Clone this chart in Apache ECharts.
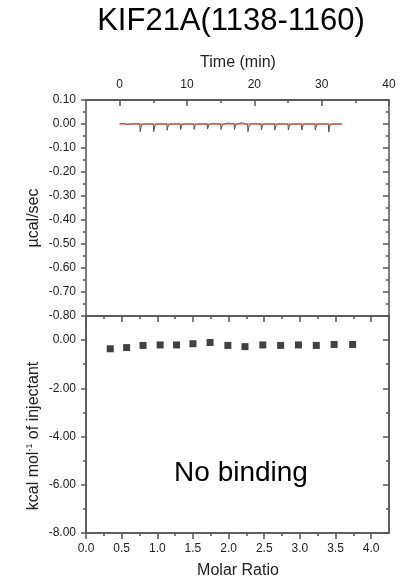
<!DOCTYPE html>
<html>
<head>
<meta charset="utf-8">
<style>
  html, body { margin: 0; padding: 0; background: #fff; }
  #chart { width: 416px; height: 580px; }
</style>
<script src="https://cdn.jsdelivr.net/npm/echarts@6/dist/echarts.min.js"></script>
</head>
<body>
<div id="chart"></div>
<script>
// Raw ITC thermogram: time (min) and differential power (µcal/sec)
const thermoTime = [
  0.0, 0.4, 0.6, 0.9, 1.0, 1.2, 1.8, 2.5,
  3.0, 3.05, 3.25, 3.6,
  5.0, 5.05, 5.25, 5.6,
  7.0, 7.05, 7.25, 7.6,
  9.0, 9.05, 9.25, 9.6,
  11.0, 11.05, 11.25, 11.6,
  13.0, 13.05, 13.25, 13.6,
  15.0, 15.05, 15.25, 15.8, 16.3, 16.6,
  17.0, 17.05, 17.25, 17.8, 18.2, 18.5,
  19.0, 19.05, 19.25, 19.6,
  21.0, 21.05, 21.25, 21.6,
  23.0, 23.05, 23.25, 23.6,
  25.0, 25.05, 25.25, 25.6,
  27.0, 27.05, 27.25, 27.6,
  29.0, 29.05, 29.25, 29.6,
  31.0, 31.05, 31.25, 31.6,
  33.0
];
const thermoPower = [
  0.000, 0.003, -0.001, 0.000, -0.008, -0.002, 0.000, 0.001,
  0.000, -0.032, -0.004, 0.000,
  0.000, -0.032, -0.004, 0.000,
  0.000, -0.026, -0.003, 0.000,
  0.000, -0.023, -0.003, 0.000,
  0.000, -0.023, -0.003, 0.000,
  0.000, -0.021, -0.003, 0.001,
  0.000, -0.023, -0.003, 0.002, 0.004, 0.001,
  0.001, -0.023, -0.002, 0.003, 0.005, 0.001,
  0.000, -0.032, -0.004, 0.001,
  0.000, -0.025, -0.003, 0.000,
  0.000, -0.025, -0.003, 0.000,
  0.000, -0.025, -0.003, 0.000,
  0.000, -0.025, -0.003, 0.000,
  0.000, -0.025, -0.003, 0.000,
  0.000, -0.034, -0.004, 0.000,
  0.000
];
// Fitted baseline under the thermogram
const baselineTime = [0, 33];
const baselinePower = [0, 0];

// Integrated heats per injection
const molarRatio = [0.34, 0.57, 0.80, 1.04, 1.27, 1.50, 1.74, 1.99, 2.23, 2.48, 2.73, 2.98, 3.23, 3.48, 3.74];
const heatPerInj = [-0.36, -0.31, -0.22, -0.20, -0.20, -0.15, -0.10, -0.22, -0.27, -0.20, -0.22, -0.20, -0.22, -0.18, -0.18];

// Tick positions
const timeMajor = [0, 10, 20, 30, 40];
const timeMinor = [5, 15, 25, 35];
const ratioMajor = [0, 0.5, 1.0, 1.5, 2.0, 2.5, 3.0, 3.5, 4.0];
const ratioMinor = [0.25, 0.75, 1.25, 1.75, 2.25, 2.75, 3.25, 3.75];
const heatMajor = [-8, -6, -4, -2, 0];
const heatMinor = [-7, -5, -3, -1];

const FONT = '"Liberation Sans", Arial, Helvetica, sans-serif';
const AXIS_COLOR = '#555';
const LABEL_COLOR = '#222';
const lineStyle = { color: AXIS_COLOR, width: 1.5 };
const labelStyle = { color: LABEL_COLOR, fontFamily: FONT, fontSize: 12 };

const zip = (a, b) => a.map((v, i) => [v, b[i]]);
const fmt = (d) => (v) => (Math.abs(v) < 1e-9 ? 0 : v).toFixed(d);

function tickAxis(base, values, len, inside, extra) {
  return Object.assign({
    type: 'value',
    axisLine: { show: true, onZero: false, lineStyle },
    axisTick: { show: true, inside, length: len, customValues: values, lineStyle },
    axisLabel: { show: false },
    splitLine: { show: false }
  }, base, extra || {});
}

const chart = echarts.init(document.getElementById('chart'), null, { renderer: 'canvas' });

chart.setOption({
  animation: false,
  backgroundColor: '#fff',
  grid: [
    { left: 86, top: 100, width: 303, height: 216 },
    { left: 86, top: 316, width: 303, height: 217 }
  ],
  xAxis: [
    // thermogram time axis (top)
    tickAxis({ gridIndex: 0, position: 'top', min: -5, max: 40 }, timeMajor, 6, true, {
      axisLabel: { show: true, customValues: timeMajor, margin: 9, ...labelStyle }
    }),
    tickAxis({ gridIndex: 0, position: 'top', min: -5, max: 40 }, timeMinor, 3, true),
    // molar ratio axis (bottom)
    tickAxis({ gridIndex: 1, position: 'bottom', min: 0, max: 4.25 }, ratioMajor, 6, false, {
      axisLabel: { show: true, customValues: ratioMajor, margin: 10, formatter: fmt(1), ...labelStyle }
    }),
    tickAxis({ gridIndex: 1, position: 'bottom', min: 0, max: 4.25 }, ratioMinor, 3, false),
    // separator line between panels with inward ticks
    tickAxis({ gridIndex: 1, position: 'top', min: 0, max: 4.25 }, ratioMajor, 6, true),
    tickAxis({ gridIndex: 1, position: 'top', min: 0, max: 4.25 }, ratioMinor, 3, true)
  ],
  yAxis: [
    {
      type: 'value', gridIndex: 0, position: 'left', min: -0.8, max: 0.1, interval: 0.1,
      axisLine: { show: true, onZero: false, lineStyle },
      axisTick: { show: true, inside: false, length: 5, lineStyle },
      minorTick: { show: true, splitNumber: 2, length: 3, lineStyle },
      axisLabel: { margin: 10, formatter: fmt(2), ...labelStyle },
      splitLine: { show: false }
    },
    {
      type: 'value', gridIndex: 0, position: 'right', min: -0.8, max: 0.1, interval: 0.1,
      axisLine: { show: true, onZero: false, lineStyle },
      axisTick: { show: true, inside: true, length: 6, lineStyle },
      minorTick: { show: true, splitNumber: 2, length: 3, lineStyle },
      axisLabel: { show: false },
      splitLine: { show: false }
    },
    tickAxis({ gridIndex: 1, position: 'left', min: -8, max: 1 }, heatMajor, 5, false, {
      axisLabel: { show: true, customValues: heatMajor, margin: 10, formatter: fmt(2), ...labelStyle }
    }),
    tickAxis({ gridIndex: 1, position: 'left', min: -8, max: 1 }, heatMinor, 3, false),
    tickAxis({ gridIndex: 1, position: 'right', min: -8, max: 1 }, heatMajor, 6, true),
    tickAxis({ gridIndex: 1, position: 'right', min: -8, max: 1 }, heatMinor, 3, true)
  ],
  series: [
    {
      name: 'Thermogram', type: 'line', xAxisIndex: 0, yAxisIndex: 0,
      data: zip(thermoTime, thermoPower),
      showSymbol: false, symbol: 'none',
      lineStyle: { color: '#555', width: 1 }, z: 2
    },
    {
      name: 'Baseline', type: 'line', xAxisIndex: 0, yAxisIndex: 0,
      data: zip(baselineTime, baselinePower),
      showSymbol: false, symbol: 'none',
      lineStyle: { color: '#e0403a', width: 1 }, z: 3
    },
    {
      name: 'Heat', type: 'scatter', xAxisIndex: 2, yAxisIndex: 2,
      data: zip(molarRatio, heatPerInj),
      symbol: 'rect', symbolSize: 7,
      itemStyle: { color: '#111' }
    }
  ],
  graphic: [
    {
      type: 'text', x: 231, y: 21,
      style: { text: 'KIF21A(1138-1160)', fill: '#000', font: '31px ' + FONT, textAlign: 'center', textVerticalAlign: 'middle' }
    },
    {
      type: 'text', x: 238, y: 63,
      style: { text: 'Time (min)', fill: LABEL_COLOR, font: '16px ' + FONT, textAlign: 'center', textVerticalAlign: 'middle' }
    },
    {
      type: 'text', x: 34, y: 218, rotation: Math.PI / 2,
      style: { text: 'µcal/sec', fill: LABEL_COLOR, font: '16px ' + FONT, textAlign: 'center', textVerticalAlign: 'middle' }
    },
    {
      type: 'text', x: 34, y: 436, rotation: Math.PI / 2,
      style: {
        text: '{a|kcal mol}{s|-1}{a| of injectant}',
        fill: LABEL_COLOR, textAlign: 'center', textVerticalAlign: 'middle',
        rich: {
          a: { fontSize: 16, fontFamily: FONT, fill: LABEL_COLOR, lineHeight: 18 },
          s: { fontSize: 9, fontFamily: FONT, fill: LABEL_COLOR, verticalAlign: 'top', lineHeight: 18, padding: [0, 0, 8, 0] }
        }
      }
    },
    {
      type: 'text', x: 238, y: 571,
      style: { text: 'Molar Ratio', fill: LABEL_COLOR, font: '16px ' + FONT, textAlign: 'center', textVerticalAlign: 'middle' }
    },
    {
      type: 'text', x: 241, y: 473,
      style: { text: 'No binding', fill: '#000', font: '28px ' + FONT, textAlign: 'center', textVerticalAlign: 'middle' }
    }
  ]
});
</script>
</body>
</html>
